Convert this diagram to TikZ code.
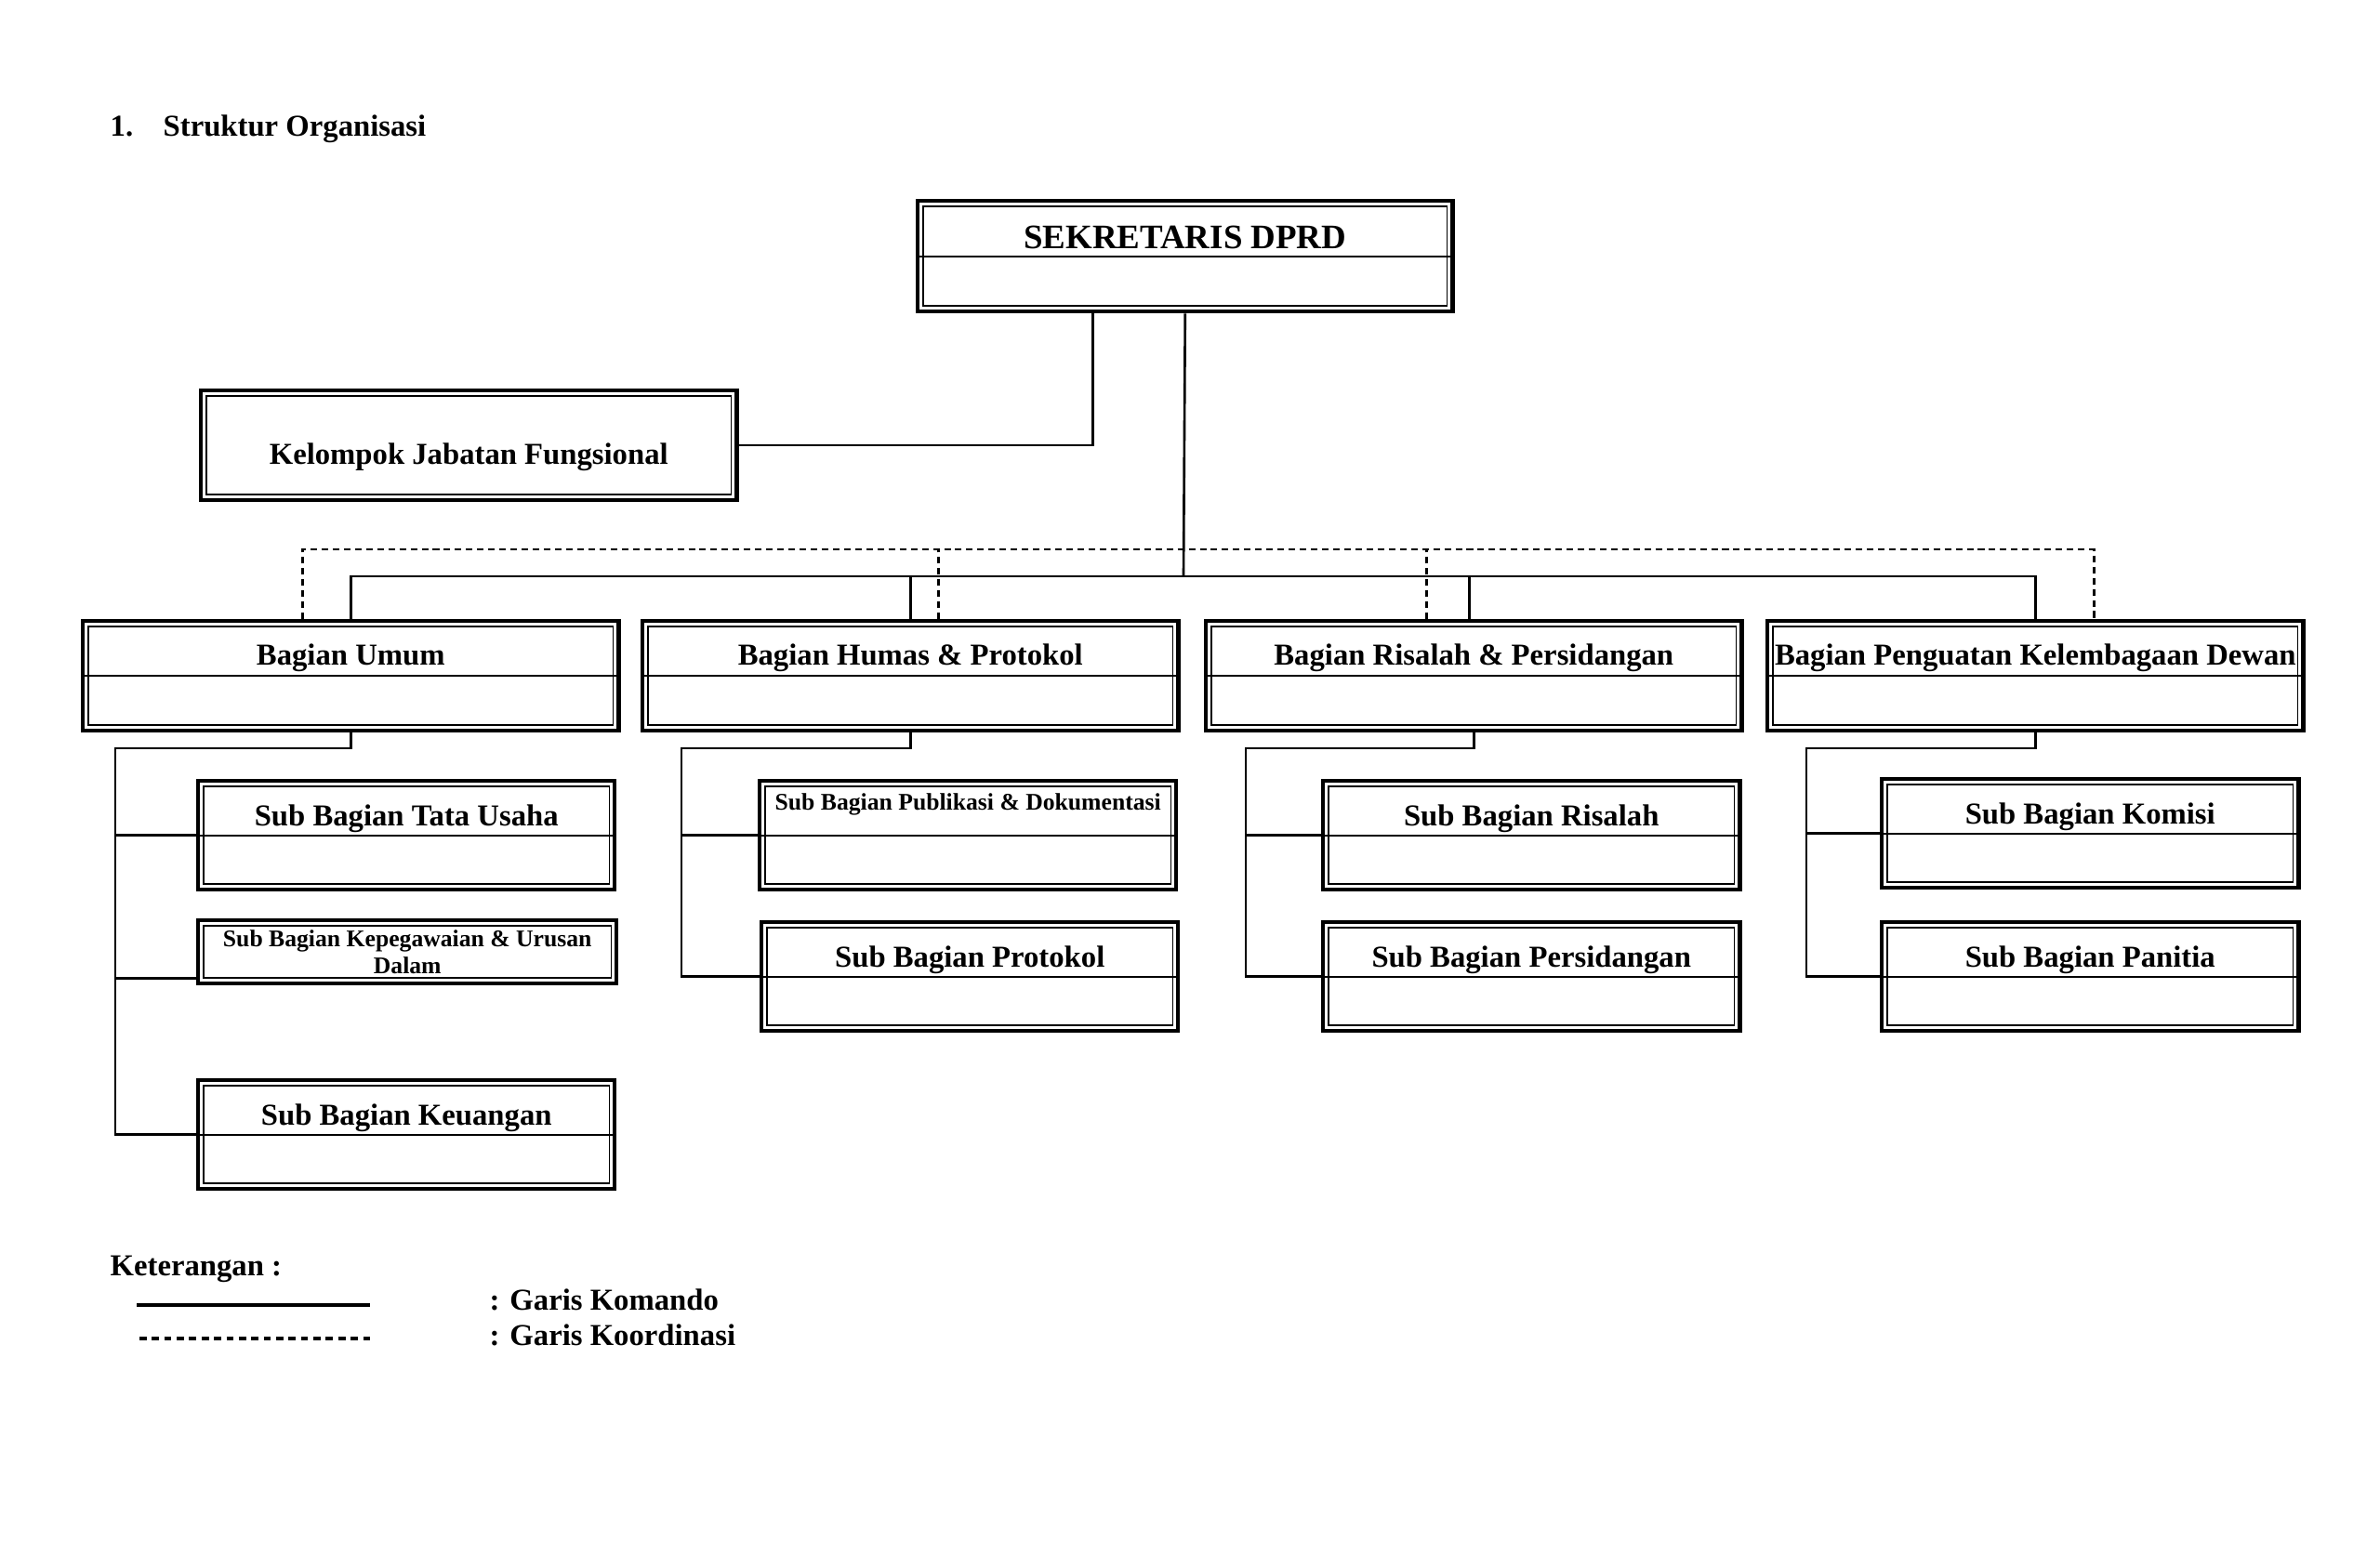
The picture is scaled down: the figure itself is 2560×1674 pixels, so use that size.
\documentclass[tikz,border=0pt]{standalone}
\usepackage{fontspec}
\setmainfont{Liberation Serif}
\usetikzlibrary{calc}

\tikzset{
  bingkai/.style={draw, line width=1.2pt, inner sep=0pt, anchor=north west,
    font=\bfseries\fontsize{9.3}{11}\selectfont,
    path picture={
      \draw[line width=0.5pt] ([shift={(1.7pt,-1.7pt)}]path picture bounding box.north west)
        rectangle ([shift={(-1.7pt,1.7pt)}]path picture bounding box.south east);
    }},
  bingkaigaris/.style={bingkai,
    path picture={
      \draw[line width=0.5pt] ([shift={(1.7pt,-1.7pt)}]path picture bounding box.north west)
        rectangle ([shift={(-1.7pt,1.7pt)}]path picture bounding box.south east);
      \draw[line width=0.5pt] (path picture bounding box.west) -- (path picture bounding box.east);
    }},
  bagian/.style={bingkaigaris, minimum width=5.76cm, text height=0.47cm, text depth=0.71cm},
  subbag/.style={bingkaigaris, minimum width=4.48cm, text height=0.48cm, text depth=0.69cm},
  teks/.style={anchor=base west, inner sep=0pt, font=\bfseries\fontsize{9.3}{11}\selectfont},
  komando/.style={line width=0.75pt},
  koordinasi/.style={line width=0.75pt, dash pattern=on 2pt off 1.4pt}
}

\begin{document}
\begin{tikzpicture}[x=0.01cm, y=-0.01cm]
\fill[white] (0,0) rectangle (2560,1674);

% Judul
\node[teks] (nomor) at (118,147) {1.};
\node[teks] (judul) at (175,147) {Struktur Organisasi};

% Pimpinan dan kelompok fungsional
\node[bingkaigaris, minimum width=5.75cm, text height=0.51cm, text depth=0.68cm,
  font=\bfseries\fontsize{10.5}{12}\selectfont] (sek) at (985,214) {SEKRETARIS DPRD};
\node[bingkai, minimum width=5.76cm, text height=0.79cm, text depth=0.39cm] (kjf) at (214,418)
  {Kelompok Jabatan Fungsional};

% Bagian
\node[bagian] (umum) at (87,666) {Bagian Umum};
\node[bagian] (humas) at (689,666) {Bagian Humas \& Protokol};
\node[bagian] (risalah) at (1295,666) {Bagian Risalah \& Persidangan};
\node[bagian] (pkd) at (1899,666) {Bagian Penguatan Kelembagaan Dewan};

% Sub bagian
\node[subbag] (tu) at (211,838) {Sub Bagian Tata Usaha};
\node[bingkai, minimum width=4.50cm, minimum height=0.68cm, align=center,
  font=\bfseries\fontsize{7.3}{8.3}\selectfont] (peg) at (211,988)
  {Sub Bagian Kepegawaian \& Urusan\\Dalam};
\node[subbag] (keu) at (211,1160) {Sub Bagian Keuangan};
\node[subbag, text height=0.31cm, text depth=0.86cm,
  font=\bfseries\fontsize{7.3}{8.3}\selectfont] (pub) at (815,838) {Sub Bagian Publikasi \& Dokumentasi};
\node[subbag] (prot) at (817,990) {Sub Bagian Protokol};
\node[subbag] (ris) at (1421,838) {Sub Bagian Risalah};
\node[subbag] (sid) at (1421,990) {Sub Bagian Persidangan};
\node[subbag] (kom) at (2022,836) {Sub Bagian Komisi};
\node[subbag] (pan) at (2022,990) {Sub Bagian Panitia};

% Garis komando
\coordinate (bus) at (1273,620);
\coordinate (koord) at (1273,591);
\draw[komando] (kjf.east) -| ($(sek.south)+(-99,0)$);
\draw[komando] (sek.south) -- (bus);
\draw[komando] (umum.north) |- (bus) -| (pkd.north);
\draw[komando] (humas.north) -- (humas.north |- bus);
\draw[komando] ($(risalah.north)+(-5,0)$) -- ($(risalah.north |- bus)+(-5,0)$);

% Garis koordinasi
\draw[koordinasi] ($(umum.north)+(-52,0)$) |- (koord) -| ($(pkd.north)+(63,0)$);
\draw[koordinasi] ($(humas.north)+(30,0)$) -- ($(humas.north |- koord)+(30,0)$);
\draw[koordinasi] ($(risalah.north)+(-51,0)$) -- ($(risalah.north |- koord)+(-51,0)$);

% Cabang sub bagian
\coordinate (c1) at (124,805);
\coordinate (c2) at (733,805);
\coordinate (c3) at (1340,805);
\coordinate (c4) at (1943,805);
\draw[komando] (umum.south) |- (c1) |- (keu.west);
\draw[komando] (c1 |- tu.west) -- (tu.west);
\draw[komando] ($(c1 |- peg.south)+(0,-8)$) -- ($(peg.south west)+(0,-8)$);
\draw[komando] (humas.south) |- (c2) |- (prot.west);
\draw[komando] (c2 |- pub.west) -- (pub.west);
\draw[komando] (risalah.south) |- (c3) |- (sid.west);
\draw[komando] (c3 |- ris.west) -- (ris.west);
\draw[komando] (pkd.south) |- (c4) |- (pan.west);
\draw[komando] (c4 |- kom.west) -- (kom.west);

% Keterangan
\node[teks] (ket) at (118,1373) {Keterangan :};
\coordinate (ls1) at (147,1404);
\coordinate (le1) at (398,1404);
\coordinate (ls2) at (150,1440);
\coordinate (le2) at (398,1440);
\draw[line width=1.1pt] (ls1) -- (le1);
\draw[line width=0.9pt, dash pattern=on 2.2pt off 1.6pt] (ls2) -- (le2);
\node[teks] (kom1) at (526,1410) {: Garis Komando};
\node[teks] (kor1) at (526,1448) {: Garis Koordinasi};
\end{tikzpicture}
\end{document}
